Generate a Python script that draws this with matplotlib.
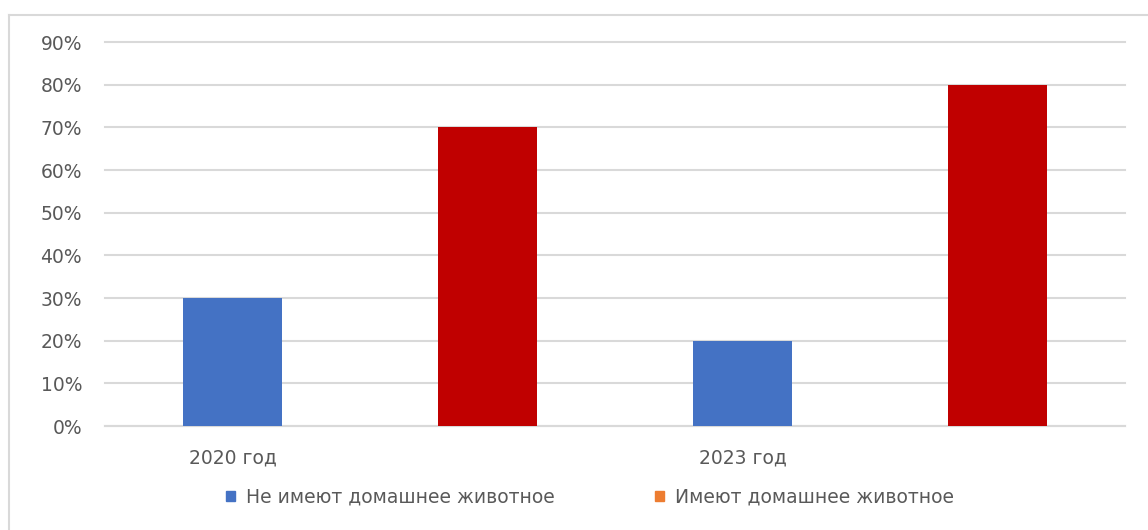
import matplotlib
matplotlib.use("Agg")
import matplotlib.pyplot as plt
from matplotlib.patches import Patch
from matplotlib.lines import Line2D
from matplotlib.ticker import PercentFormatter

plt.rcParams['font.family'] = ['DejaVu Sans']

# Data
categories = ["2020 год", "", "2023 год", ""]
no_pet = [0.30, None, 0.20, None]      # Не имеют домашнее животное
has_pet = [None, 0.70, None, 0.80]     # Имеют домашнее животное
series_names = ["Не имеют домашнее животное", "Имеют домашнее животное"]
y_ticks = [0, 0.1, 0.2, 0.3, 0.4, 0.5, 0.6, 0.7, 0.8, 0.9]

blue = "#4472C4"
red = "#C00000"
orange = "#ED7D31"
text_gray = "#595959"
grid_gray = "#D9D9D9"

W, H = 1148, 530
fig = plt.figure(figsize=(W / 100, H / 100), dpi=100)
ax = fig.add_axes([105 / W, (H - 426) / H, (1125 - 105) / W, (426 - 42) / H])

x = range(len(categories))
for i, v in enumerate(no_pet):
    if v is not None:
        ax.bar(i, v, width=0.39, color=blue, zorder=3)
for i, v in enumerate(has_pet):
    if v is not None:
        ax.bar(i, v, width=0.39, color=red, zorder=3)

ax.set_xlim(-0.5, len(categories) - 0.5)
ax.set_ylim(0, 0.9)
ax.set_yticks(y_ticks)
ax.yaxis.set_major_formatter(PercentFormatter(1.0, decimals=0))
ax.set_xticks(list(x))
ax.set_xticklabels(categories)

ax.grid(axis='y', color=grid_gray, linewidth=1.5, zorder=0)
for gl in ax.get_ygridlines():
    gl.set_clip_on(False)
for s in ['top', 'right', 'left']:
    ax.spines[s].set_visible(False)
ax.spines['bottom'].set_color(grid_gray)
ax.spines['bottom'].set_linewidth(1.5)
ax.tick_params(axis='both', length=0, colors=text_gray, labelsize=13.5)
ax.tick_params(axis='y', pad=16.5)
ax.tick_params(axis='x', pad=16)

handles = [Patch(color=blue), Patch(color=orange)]
fig.legend(handles, series_names, loc='center', bbox_to_anchor=(590 / W, (H - 497) / H),
           ncol=2, frameon=False, fontsize=13.5, labelcolor=text_gray,
           handlelength=0.5, handleheight=0.5, handletextpad=0.6, columnspacing=5.3)

# Chart area frame (top and left edges)
fig.add_artist(Line2D([9 / W, 1], [(H - 15) / H, (H - 15) / H], color=grid_gray, linewidth=1.5))
fig.add_artist(Line2D([9 / W, 9 / W], [0, (H - 15) / H], color=grid_gray, linewidth=1.5))

fig.savefig("out.png", dpi=100, facecolor="white")
